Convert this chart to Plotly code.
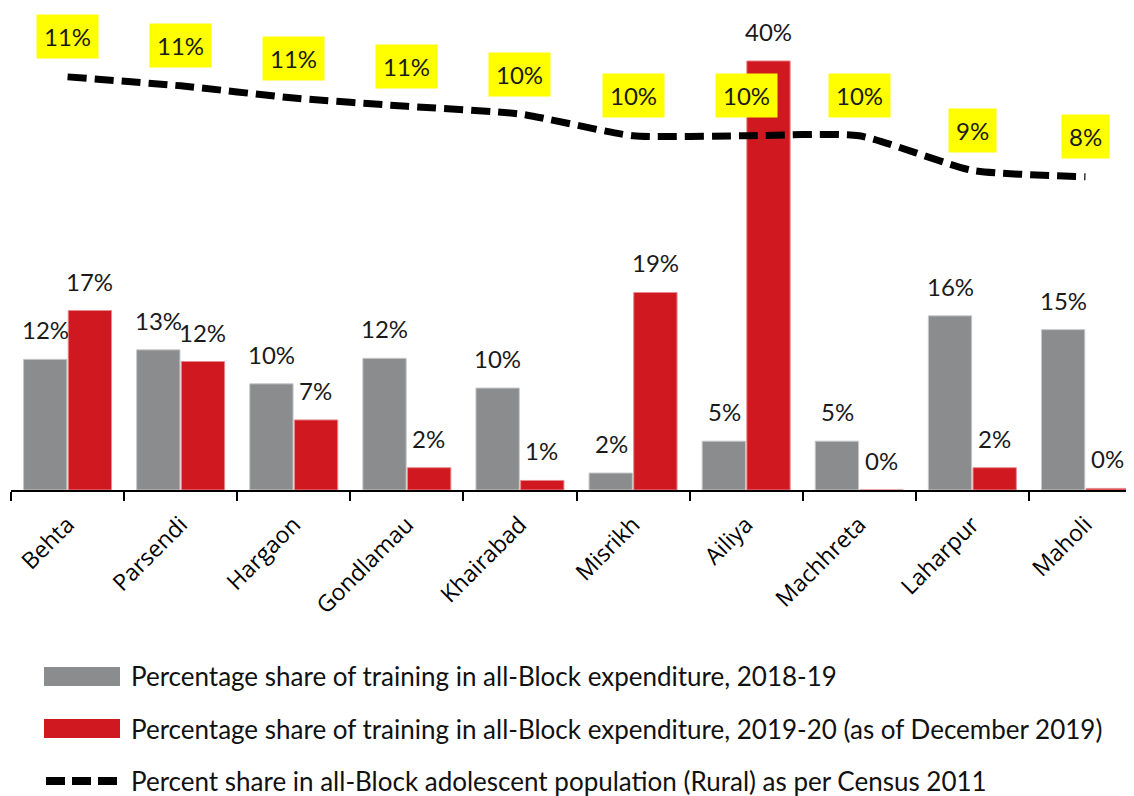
import plotly.graph_objects as go

blocks = ["Behta", "Parsendi", "Hargaon", "Gondlamau", "Khairabad",
          "Misrikh", "Ailiya", "Machhreta", "Laharpur", "Maholi"]
share_2018_19 = [12.3, 13.2, 10.0, 12.4, 9.6, 1.6, 4.6, 4.6, 16.4, 15.1]
share_2019_20 = [16.9, 12.1, 6.6, 2.1, 0.9, 18.6, 40.4, 0.0, 2.1, 0.15]
adolescent_share = [11.44, 11.16, 10.78, 10.52, 10.28, 9.6, 9.6, 9.6, 8.52, 8.32]
series_names = [
    "Percentage share of training in all-Block expenditure, 2018-19",
    "Percentage share of training in all-Block expenditure, 2019-20 (as of December 2019)",
    "Percent share in all-Block adolescent population (Rural) as per Census 2011",
]

GRAY = "#8b8c8e"
RED = "#cf181f"
OFF = 8  # default page body margin
W, H = 1134 - OFF, 796 - OFF
PLOT_L, PLOT_T, PW, PH = 11, 10, 1123, 480  # screen pixels
ML, MT = PLOT_L - OFF, PLOT_T - OFF
MR = W - ML - PW
MB = H - MT - PH

def px_x(px):
    return (px - PLOT_L) / PW

def px_y(py):
    return (PLOT_T + PH - py) / PH

fig = go.Figure()
fig.add_trace(go.Bar(x=blocks, y=share_2018_19, name=series_names[0],
                     marker=dict(color=GRAY, line=dict(color="#c8c8c8", width=1))))
fig.add_trace(go.Bar(x=blocks, y=share_2019_20, name=series_names[1],
                     marker=dict(color=RED, line=dict(color="#e88a8d", width=1))))
fig.add_trace(go.Scatter(x=blocks, y=adolescent_share, name=series_names[2], yaxis="y2",
                         mode="lines",
                         line=dict(color="black", width=7, dash="19px,8px",
                                   shape="spline", smoothing=0.55)))

annotations = []
label_font = dict(family="Lato", size=24, color="#1a1a1a")
for vals, shift in ((share_2018_19, -22), (share_2019_20, 22)):
    for b, v in zip(blocks, vals):
        annotations.append(dict(x=b, y=v, xref="x", yref="y", text=f"{v:.0f}%",
                                showarrow=False, xshift=shift, yshift=13,
                                yanchor="bottom", font=label_font))
for b, v in zip(blocks, adolescent_share):
    annotations.append(dict(x=b, y=v, xref="x", yref="y2", text=f"{v:.0f}%",
                            showarrow=False, yshift=40, yanchor="middle",
                            bgcolor="#ffff00", borderpad=7, font=label_font))

# manual legend
legend_font = dict(family="Lato", size=26, color="#111111")
shapes = [
    dict(type="rect", xref="paper", yref="paper", x0=px_x(44), x1=px_x(120),
         y0=px_y(686), y1=px_y(667), fillcolor=GRAY, line=dict(width=0)),
    dict(type="rect", xref="paper", yref="paper", x0=px_x(44), x1=px_x(120),
         y0=px_y(738), y1=px_y(719), fillcolor=RED, line=dict(width=0)),
    dict(type="line", xref="paper", yref="paper", x0=px_x(46), x1=px_x(118),
         y0=px_y(781), y1=px_y(781), line=dict(color="black", width=8, dash="19px,7px")),
]
for name, py in zip(series_names, (676, 729, 781)):
    annotations.append(dict(x=px_x(129), y=px_y(py), xref="paper", yref="paper",
                            text=name, showarrow=False, xanchor="left",
                            yanchor="middle", font=legend_font))

fig.update_layout(
    width=W, height=H,
    margin=dict(l=ML, r=MR, t=MT, b=MB, autoexpand=False),
    paper_bgcolor="white", plot_bgcolor="white",
    barmode="group", bargap=0.21, bargroupgap=0.03,
    showlegend=False,
    xaxis=dict(type="category", range=[-0.5, -0.5 + PW / 113.1],
               showline=True, linecolor="black", linewidth=2,
               ticks="outside", tickson="boundaries", ticklen=9, tickwidth=2,
               tickcolor="black", tickangle=-45, ticklabelstandoff=10,
               tickfont=dict(family="Open Sans", size=23, color="black"),
               showgrid=False, zeroline=False),
    yaxis=dict(range=[0, PH / 10.62], visible=False, showgrid=False, zeroline=False),
    yaxis2=dict(range=[-1.47, -1.47 + PH / 32], overlaying="y", visible=False,
                showgrid=False, zeroline=False),
    annotations=annotations,
    shapes=shapes,
)

fig.write_html("out.html")
